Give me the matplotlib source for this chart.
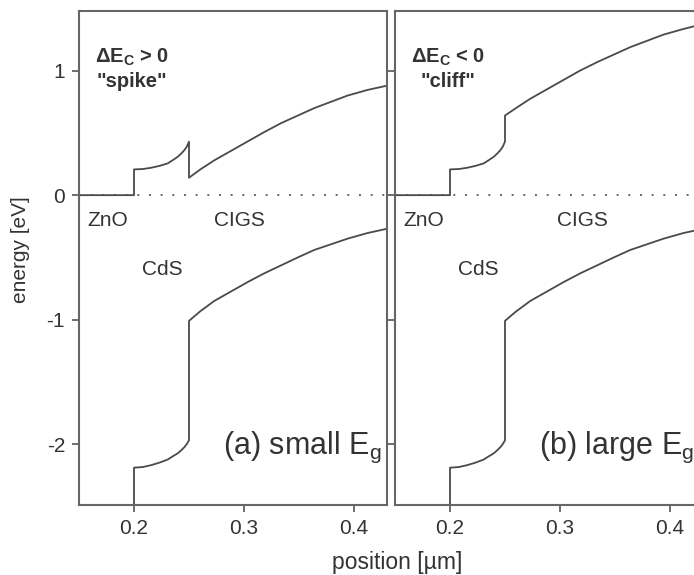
import numpy as np
import matplotlib
matplotlib.use("Agg")
import matplotlib.pyplot as plt

plt.rcParams['font.family'] = ['Liberation Sans', 'DejaVu Sans']
plt.rcParams['mathtext.fontset'] = 'custom'
plt.rcParams['mathtext.rm'] = 'Liberation Sans'
plt.rcParams['mathtext.it'] = 'Liberation Sans:italic'
plt.rcParams['mathtext.bf'] = 'Liberation Sans:bold'
plt.rcParams['axes.unicode_minus'] = False

# band data ----------------------------------------------------
zno_x = [0.15, 0.20]
zno_cb = [0.0, 0.0]

cds_x = [0.200, 0.208, 0.2155, 0.223, 0.2306, 0.235, 0.2397, 0.243, 0.2458, 0.248, 0.250]
cds_cb = [0.207, 0.21, 0.22, 0.235, 0.255, 0.28, 0.308, 0.335, 0.362, 0.39, 0.43]
cds_vb = [-2.19, -2.185, -2.17, -2.15, -2.125, -2.10, -2.075, -2.05, -2.025, -2.00, -1.97]

cigs_x = [0.250, 0.260, 0.273, 0.288, 0.303, 0.318, 0.334, 0.349, 0.364, 0.379, 0.394, 0.412, 0.43]
cigs_cb_small = [0.14, 0.205, 0.28, 0.355, 0.43, 0.505, 0.58, 0.64, 0.70, 0.75, 0.80, 0.845, 0.88]
cigs_cb_large = [0.64, 0.70, 0.775, 0.85, 0.925, 1.00, 1.07, 1.13, 1.19, 1.24, 1.29, 1.335, 1.375]
cigs_vb = [-1.01, -0.935, -0.85, -0.775, -0.70, -0.63, -0.563, -0.50, -0.44, -0.395, -0.35, -0.305, -0.27]

x_ticks = [0.2, 0.3, 0.4]
y_ticks = [1, 0, -1, -2]

panels = [
    {'cigs_cb': cigs_cb_small, 'head': [r'ΔE$_{\mathbf{C}}$ > 0', '"spike"'],
     'label': r'(a) small E$_\mathrm{g}$', 'cigs_x': 0.296},
    {'cigs_cb': cigs_cb_large, 'head': [r'ΔE$_{\mathbf{C}}$ < 0', '"cliff"'],
     'label': r'(b) large E$_\mathrm{g}$', 'cigs_x': 0.320},
]

line_col = '#4a4a4a'
text_col = '#333333'

fig = plt.figure(figsize=(6.94, 5.75), dpi=100)
W, H = 694, 575
axes = [fig.add_axes([79 / W, 70 / H, 308 / W, 494 / H]),
        fig.add_axes([395 / W, 70 / H, 308 / W, 494 / H])]

for i, (ax, p) in enumerate(zip(axes, panels)):
    ax.axhline(0, color='#666666', lw=1.4, ls=(0, (1, 5)), zorder=1)

    # conduction band
    cb_x = np.concatenate([zno_x, cds_x, cigs_x])
    cb_y = np.concatenate([zno_cb, cds_cb, p['cigs_cb']])
    ax.plot(cb_x, cb_y, color=line_col, lw=1.3, zorder=2)

    # valence band (ZnO part is below the plotted range)
    vb_x = np.concatenate([[0.2], cds_x, cigs_x])
    vb_y = np.concatenate([[-3.0], cds_vb, cigs_vb])
    ax.plot(vb_x, vb_y, color=line_col, lw=1.3, zorder=2)

    ax.set_xlim(0.15, 0.43)
    ax.set_ylim(-2.49, 1.48)
    ax.set_xticks(x_ticks)
    ax.set_xticklabels([str(t) for t in x_ticks])
    ax.set_yticks(y_ticks)
    ax.tick_params(direction='out', length=5, width=1.2, color='#555555',
                   labelsize=15, labelcolor=text_col, pad=5)
    if i == 0:
        ax.set_yticklabels([str(t) for t in y_ticks])
    else:
        ax.set_yticklabels([])
    for s in ax.spines.values():
        s.set_color('#666666')
        s.set_linewidth(1.5)

    ax.text(0.198, 1.105, p['head'][0], ha='center', va='center',
            fontsize=14.5, fontweight='bold', color=text_col)
    ax.text(0.198, 0.915, p['head'][1], ha='center', va='center',
            fontsize=14.5, fontweight='bold', color=text_col)
    ax.text(0.176, -0.20, 'ZnO', ha='center', va='center', fontsize=15, color=text_col)
    ax.text(p['cigs_x'], -0.20, 'CIGS', ha='center', va='center', fontsize=15, color=text_col)
    ax.text(0.2255, -0.60, 'CdS', ha='center', va='center', fontsize=15, color=text_col)
    ax.text(0.281, -2.08, p['label'], ha='left', va='baseline', fontsize=22, color=text_col)

fig.text(21 / W, 1 - 250 / H, 'energy [eV]', rotation=90, ha='center', va='center',
         fontsize=15, color=text_col)
fig.text(397 / W, 1 - 563 / H, 'position [µm]', ha='center', va='center',
         fontsize=16.5, color=text_col)

fig.savefig('out.png', dpi=100)
